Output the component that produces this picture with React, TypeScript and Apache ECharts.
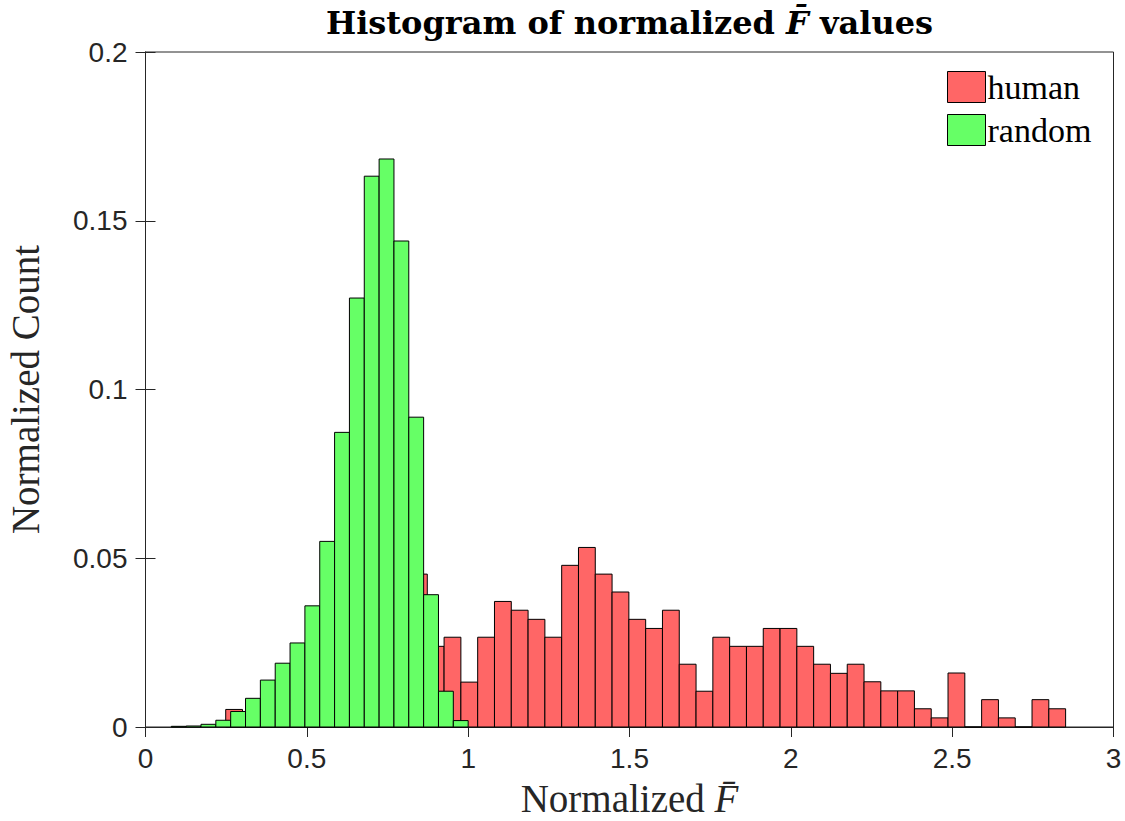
import React, { useEffect, useRef } from "react";
import * as echarts from "echarts";

// ---- data ----
const xTicks = [0, 0.5, 1, 1.5, 2, 2.5, 3];
const yTicks = [0, 0.05, 0.1, 0.15, 0.2];

const seriesNames = ["human", "random"];

// human: histogram bins (start, width) and normalized counts
const humanBinStart = 0.2486;
const humanBinWidth = 0.05206;
const humanCounts = [
  0.0052, 0.003, 0.006, 0.008, 0.011, 0.015, 0.02, 0.025, 0.03, 0.035, 0.04, 0.0453,
  0.0239, 0.0266, 0.0133, 0.0266, 0.0372, 0.0346, 0.0319, 0.0266, 0.0479, 0.0532,
  0.0453, 0.04, 0.0319, 0.0292, 0.0346, 0.0186, 0.0106, 0.0266, 0.0239, 0.0239,
  0.0292, 0.0292, 0.0239, 0.0186, 0.0159, 0.0186, 0.0134, 0.0107, 0.0107, 0.0054,
  0.0027, 0.016, 0, 0.0081, 0.0027, 0, 0.0081, 0.0054,
];

// random: histogram bins (start, width) and normalized counts
const randomBinStart = 0.08;
const randomBinWidth = 0.046;
const randomCounts = [
  0.0002, 0.0003, 0.0008, 0.002, 0.0046, 0.0085, 0.0139, 0.0189, 0.0249, 0.0359,
  0.055, 0.0873, 0.1271, 0.1632, 0.1683, 0.144, 0.0918, 0.0392, 0.0106, 0.0019,
];

const humanColor = "#FF6666";
const randomColor = "#66FF66";
const axisColor = "#262626";
const SERIF = "'Liberation Serif', 'DejaVu Serif', serif";
const TITLE_SERIF = "'DejaVu Serif', 'Liberation Serif', serif";
const SANS = "'Liberation Sans', Arial, sans-serif";

function toBins(start: number, width: number, counts: number[]) {
  return counts.map((c, i) => [start + i * width, start + (i + 1) * width, c]);
}

function histSeries(name: string, color: string, data: number[][]) {
  return {
    type: "custom",
    name,
    data,
    encode: { x: [0, 1], y: 2 },
    itemStyle: { color, borderColor: "#000", borderWidth: 1 },
    renderItem: (params: any, api: any) => {
      const p0 = api.coord([api.value(0), api.value(2)]);
      const p1 = api.coord([api.value(1), 0]);
      return {
        type: "rect",
        shape: { x: p0[0], y: p0[1], width: p1[0] - p0[0], height: p1[1] - p0[1] },
        style: { fill: color, stroke: "#000", lineWidth: 1 },
      };
    },
  };
}

export default function App() {
  const ref = useRef<HTMLDivElement>(null);
  useEffect(() => {
    if (!ref.current) return;
    const chart = echarts.init(ref.current, null, { renderer: "svg" });
    const xMin = xTicks[0];
    const xMax = xTicks[xTicks.length - 1];
    const xInt = xTicks[1] - xTicks[0];
    const yMin = yTicks[0];
    const yMax = yTicks[yTicks.length - 1];
    const yInt = yTicks[1] - yTicks[0];
    const tickCommon = { show: true, inside: true, length: 10, lineStyle: { color: axisColor, width: 1 } };
    chart.setOption({
      animation: false,
      backgroundColor: "#fff",
      title: {
        text: "{b|Histogram of normalized }{bi|F\u0304}{b| values}",
        left: 629.5,
        textAlign: "center",
        top: 4,
        padding: 0,
        textStyle: {
          rich: {
            b: { fontFamily: TITLE_SERIF, fontWeight: "bold", fontSize: 32, lineHeight: 37, color: "#000" },
            bi: { fontFamily: TITLE_SERIF, fontWeight: "bold", fontStyle: "italic", fontSize: 32, lineHeight: 37, color: "#000" },
          },
        },
      },
      legend: {
        orient: "vertical",
        left: 947,
        top: 70,
        icon: "rect",
        itemWidth: 38,
        itemHeight: 31,
        itemGap: 9,
        padding: 0,
        textStyle: { fontFamily: SERIF, fontSize: 34, color: "#000", lineHeight: 31, padding: [0, 0, 0, -3] },
        data: [
          { name: seriesNames[0], itemStyle: { color: humanColor, borderColor: "#000", borderWidth: 1 } },
          { name: seriesNames[1], itemStyle: { color: randomColor, borderColor: "#000", borderWidth: 1 } },
        ],
      },
      grid: {
        left: 145.5,
        right: 11.5,
        top: 52,
        bottom: 94,
        show: true,
        borderColor: axisColor,
        borderWidth: 1,
        backgroundColor: "#fff",
        outerBoundsMode: "none",
        containLabel: false,
      },
      xAxis: [
        {
          type: "value",
          min: xMin,
          max: xMax,
          interval: xInt,
          position: "bottom",
          splitLine: { show: false },
          axisLine: { show: true, lineStyle: { color: axisColor } },
          axisTick: tickCommon,
          axisLabel: { fontFamily: SANS, fontSize: 28, color: axisColor, margin: 17 },
          name: "{n|Normalized }{i|F\u0304}",
          nameLocation: "middle",
          nameGap: 52,
          nameTextStyle: {
            rich: {
              n: { fontFamily: SERIF, fontSize: 39, color: axisColor },
              i: { fontFamily: SERIF, fontStyle: "italic", fontSize: 39, color: axisColor },
            },
          },
        },
        {
          type: "value",
          min: xMin,
          max: xMax,
          interval: xInt,
          position: "top",
          splitLine: { show: false },
          axisLine: { show: true, lineStyle: { color: axisColor } },
          axisTick: tickCommon,
          axisLabel: { show: false },
        },
      ],
      yAxis: [
        {
          type: "value",
          min: yMin,
          max: yMax,
          interval: yInt,
          position: "left",
          splitLine: { show: false },
          axisLine: { show: true, lineStyle: { color: axisColor } },
          axisTick: tickCommon,
          axisLabel: { fontFamily: SANS, fontSize: 28, color: axisColor, margin: 18 },
          name: "Normalized Count",
          nameLocation: "middle",
          nameGap: 101,
          nameTextStyle: { fontFamily: SERIF, fontSize: 39, color: axisColor },
        },
        {
          type: "value",
          min: yMin,
          max: yMax,
          interval: yInt,
          position: "right",
          splitLine: { show: false },
          axisLine: { show: true, lineStyle: { color: axisColor } },
          axisTick: tickCommon,
          axisLabel: { show: false },
        },
      ],
      series: [
        histSeries(seriesNames[0], humanColor, toBins(humanBinStart, humanBinWidth, humanCounts)),
        histSeries(seriesNames[1], randomColor, toBins(randomBinStart, randomBinWidth, randomCounts)),
      ],
    });
    return () => chart.dispose();
  }, []);
  return (
    <div
      ref={ref}
      style={{ position: "absolute", left: 0, top: 0, width: 1125, height: 821, background: "#fff" }}
    />
  );
}
